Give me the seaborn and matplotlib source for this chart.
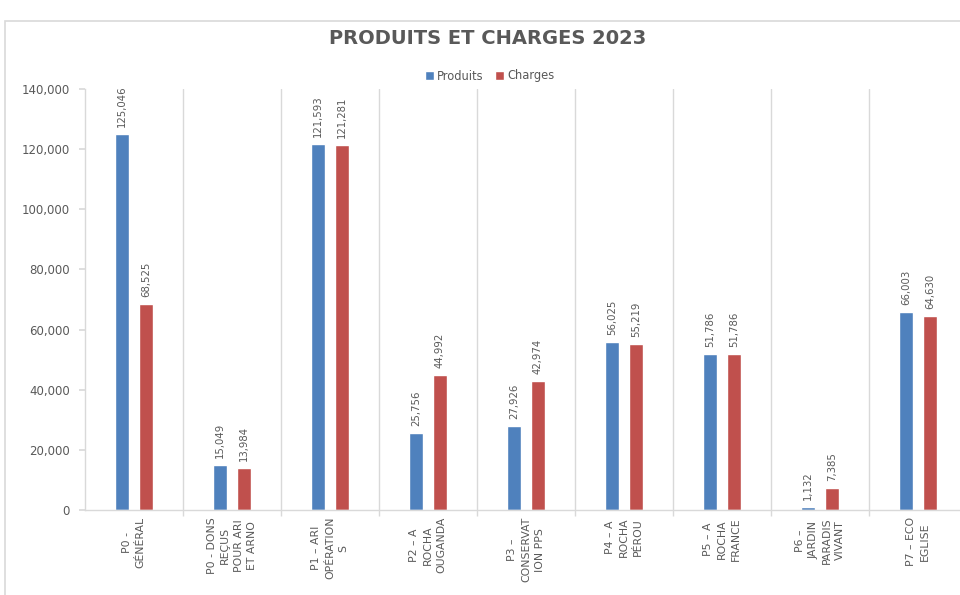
import numpy as np
import pandas as pd
import matplotlib
matplotlib.use("Agg")
import matplotlib.pyplot as plt
from matplotlib.patches import Rectangle
import seaborn as sns

# ================================
# DATA
# ================================
projets = [
    "P0 -\nGÉNÉRAL",
    "P0 - DONS\nREÇUS\nPOUR ARI\nET ARNO",
    "P1 – ARI\nOPÉRATION\nS",
    "P2 – A\nROCHA\nOUGANDA",
    "P3 –\nCONSERVAT\nION PPS",
    "P4 – A\nROCHA\nPÉROU",
    "P5 – A\nROCHA\nFRANCE",
    "P6 –\nJARDIN\nPARADIS\nVIVANT",
    "P7 – ECO\nEGLISE",
]
produits = [125046, 15049, 121593, 25756, 27926, 56025, 51786, 1132, 66003]
charges = [68525, 13984, 121281, 44992, 42974, 55219, 51786, 7385, 64630]
series = ["Produits", "Charges"]

df = pd.DataFrame({
    "Projet": projets * 2,
    "Montant": produits + charges,
    "Type": ["Produits"] * len(produits) + ["Charges"] * len(charges),
})

# ================================
# STYLE
# ================================
GRIS = "#595959"
LIGNE = "#D9D9D9"
palette = {"Produits": "#4F81BD", "Charges": "#C0504D"}

sns.set_theme(style="white")
plt.rcParams["font.family"] = ["DejaVu Sans"]

fig = plt.figure(figsize=(9.6, 5.95), dpi=100)
ax = fig.add_axes([85 / 960, 85 / 595, 882 / 960, 421 / 595])

sns.barplot(data=df, x="Projet", y="Montant", hue="Type", hue_order=series,
            palette=palette, width=0.49, gap=0.42, saturation=1,
            order=projets, ax=ax, legend=True)

for cont in ax.containers:
    ax.bar_label(cont, labels=[f"{v:,.0f}" for v in cont.datavalues],
                 rotation=90, padding=5, fontsize=7.3, color=GRIS)

ax.set_xlim(-0.5, len(projets) - 0.5)
ax.set_ylim(0, 140000)
ax.set_yticks(np.arange(0, 140001, 20000))
ax.set_yticklabels([f"{v:,.0f}" for v in np.arange(0, 140001, 20000)],
                   fontsize=8.5, color=GRIS)
ax.set_xticks(range(len(projets)))
ax.set_xticklabels(projets, rotation=90, ha="center", va="top",
                   multialignment="center", fontsize=7.8, color=GRIS,
                   linespacing=1.45)
ax.set_xticks(np.arange(0.5, len(projets) - 0.5, 1), minor=True)
ax.tick_params(axis="x", which="major", length=0, pad=5)
ax.tick_params(axis="x", which="minor", length=4, color=LIGNE, bottom=True)
ax.tick_params(axis="y", length=4, color=LIGNE, left=True, pad=7)
ax.grid(False)
ax.grid(axis="x", which="minor", color=LIGNE, linewidth=1)
ax.set_xlabel("")
ax.set_ylabel("")

for side in ["top", "right"]:
    ax.spines[side].set_visible(False)
for side in ["left", "bottom"]:
    ax.spines[side].set_color(LIGNE)
    ax.spines[side].set_linewidth(1)

leg = ax.legend(loc="center", bbox_to_anchor=(490 / 960, 1 - 76 / 595),
                bbox_transform=fig.transFigure, ncol=2, frameon=False,
                fontsize=8.3, handlelength=0.75, handleheight=0.75,
                handletextpad=0.3, columnspacing=1.0)
for t in leg.get_texts():
    t.set_color(GRIS)

fig.text(488 / 960, 1 - 38 / 595, "PRODUITS ET CHARGES 2023", ha="center",
         va="center", fontsize=14, fontweight="bold", color=GRIS)

# cadre du graphique
fig.patches.append(Rectangle((5 / 960, -0.1), 1.2, 1 - 21 / 595 + 0.1,
                             transform=fig.transFigure, fill=False,
                             edgecolor=LIGNE, linewidth=1.2))

fig.savefig("out.png", dpi=100)
